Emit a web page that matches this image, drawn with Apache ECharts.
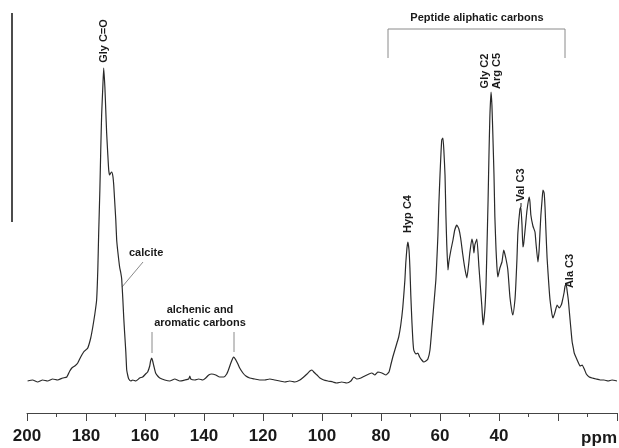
<!DOCTYPE html>
<html>
<head>
<meta charset="utf-8">
<script src="https://cdn.jsdelivr.net/npm/echarts@6/dist/echarts.min.js"></script>
<style>
  html, body { margin: 0; padding: 0; background: #fff; }
  #chart { width: 619px; height: 448px; }
</style>
</head>
<body>
<div id="chart"></div>
<script>
// 13C CP-MAS spectrum, chemical shift (ppm) vs. relative intensity

// Carbonyl region (200-155 ppm)
const carbonylShift = [199.8,198.1,196.4,194.7,193.0,191.3,189.6,187.9,186.5,185.5,184.8,183.8,182.8,181.8,180.8,180.1,179.4,178.4,177.7,177.0,176.4,176.0,175.7,175.3,175.0,174.7,174.3,174.0,173.6,173.3,173.0,172.6,172.3,172.0,171.6,171.3,170.9,170.6,170.3,169.9,169.6,169.2,168.6,168.2,167.9,167.5,167.2,166.9,166.5,166.2,165.8,165.5,164.8,164.2,163.1,161.8,160.8,159.8,159.1,158.4,158.1,157.7,157.4,157.0,156.4,155.7,155.0];
const carbonylIntensity = [8.0,8.25,7.75,8.25,8.0,8.5,8.25,8.75,9.0,10.5,11.25,11.75,12.5,14.0,15.25,15.75,16.25,18.75,21.5,24.75,28.25,35.75,45.0,55.75,65.75,74.5,81.5,86.25,81.5,75.75,70.0,64.5,60.75,59.5,60.0,60.25,59.25,57.0,53.25,48.25,43.25,40.25,36.5,35.0,33.5,28.25,23.75,20.0,15.25,10.75,9.25,8.5,8.0,8.25,8.0,8.75,9.0,9.75,10.25,11.75,13.0,13.75,13.0,11.75,10.0,9.25,8.75];

// Alkene / aromatic region (155-77 ppm)
const aromaticShift = [153.3,151.6,149.9,148.2,146.5,145.2,144.8,144.5,143.1,141.8,140.4,139.4,138.4,137.4,136.0,134.7,133.3,132.3,131.6,130.9,130.2,129.9,129.2,128.5,127.9,126.8,125.8,124.5,122.8,121.1,119.4,117.7,116.0,114.3,112.6,110.9,109.2,107.5,106.2,105.1,104.1,103.4,102.8,101.7,100.7,99.4,98.0,96.3,95.0,93.3,91.6,90.2,89.2,88.2,86.8,85.5,84.1,83.1,82.1,81.1,79.7,78.3,77.3];
const aromaticIntensity = [8.25,8.0,8.5,8.0,8.25,8.5,9.25,8.5,8.25,8.5,8.25,8.75,9.5,9.75,9.5,9.0,9.0,9.75,11.0,12.5,13.75,14.0,13.25,12.25,11.25,10.0,9.25,8.75,8.5,8.25,8.25,8.5,8.25,8.0,7.75,8.0,7.75,8.25,9.0,9.75,10.5,10.75,10.25,9.5,8.75,8.25,8.0,7.75,7.5,7.75,7.5,8.0,9.0,8.5,8.75,9.25,9.75,10.0,9.5,10.25,10.0,9.5,10.25];

// Peptide aliphatic region (77-0 ppm)
const aliphaticShift = [76.6,76.0,75.3,74.6,74.0,73.3,72.6,71.9,71.6,71.2,70.9,70.5,70.2,69.9,69.5,69.2,68.9,68.2,67.5,66.9,66.2,65.5,64.8,64.1,63.4,62.8,62.1,61.4,61.1,60.7,60.4,60.0,59.7,59.4,59.0,58.7,58.3,58.0,57.7,57.3,57.0,56.3,55.6,55.0,54.3,53.6,53.0,52.3,51.6,50.9,50.2,49.9,49.2,48.8,48.5,48.2,47.5,46.8,46.1,45.8,45.4,44.8,44.4,44.1,43.7,43.4,43.1,42.7,42.4,42.1,41.7,41.4,41.0,40.7,40.4,39.7,39.0,38.4,37.7,37.0,36.3,35.6,35.3,34.6,34.3,33.9,33.6,32.9,32.6,32.2,31.9,31.6,30.9,30.5,29.8,29.5,29.2,28.5,27.8,27.5,26.8,26.4,26.1,25.8,25.4,25.1,24.7,24.4,24.1,23.7,23.1,22.7,22.0,21.7,21.0,20.3,19.6,18.9,18.6,17.9,17.6,17.2,16.9,16.5,16.2,15.9,15.5,15.2,14.8,14.5,13.8,13.2,12.5,11.8,11.1,10.4,9.4,8.4,7.1,5.7,4.4,3.0,1.7,0.0];
const aliphaticIntensity = [12.25,14.0,15.75,17.5,19.0,22.0,26.5,33.25,37.5,41.25,42.75,40.75,36.25,29.5,22.5,18.25,15.75,14.75,15.0,14.0,13.25,12.75,13.0,13.5,15.75,20.75,27.0,33.25,37.75,44.5,52.0,59.5,64.5,68.25,68.75,65.75,59.5,49.5,42.0,35.75,37.75,40.75,43.25,45.75,47.0,46.0,43.75,39.75,36.25,33.75,37.75,40.0,43.5,42.25,40.0,42.0,43.5,36.5,29.5,26.5,22.0,25.75,32.0,40.75,53.25,64.5,74.0,80.25,77.0,70.0,59.5,49.0,40.75,36.5,34.0,36.25,37.75,40.75,38.75,35.75,29.0,25.25,24.5,28.25,32.0,38.75,45.0,51.0,51.5,47.0,41.5,42.5,47.75,50.75,54.0,52.75,49.5,46.75,45.25,42.75,37.75,40.75,45.25,49.5,53.25,55.75,55.0,51.5,45.75,38.75,32.0,28.25,24.5,23.75,25.25,27.0,26.25,27.0,27.75,30.25,31.75,32.0,30.5,28.25,25.75,23.25,20.0,17.75,16.25,15.0,13.75,12.75,11.75,12.0,11.0,9.75,9.0,8.75,8.5,8.25,8.25,8.0,8.25,8.0];

// Axis ticks (ppm) that carry a number; the 0 end carries the unit instead
const labelledTicks = [200, 180, 160, 140, 120, 100, 80, 60, 40];
const unitLabel = 'ppm';

const shift = carbonylShift.concat(aromaticShift, aliphaticShift);
const intensity = carbonylIntensity.concat(aromaticIntensity, aliphaticIntensity);
const spectrum = shift.map((s, i) => [s, intensity[i]]);

const FONT = '"Liberation Sans", Arial, Helvetica, sans-serif';
const INK = '#1a1a1a';
const GREY = '#8a8a8a';

function vText(text, x, y) {
  return {
    type: 'text', x: x, y: y, rotation: Math.PI / 2,
    style: { text: text, font: 'bold 11px ' + FONT, fill: INK,
             textAlign: 'center', textVerticalAlign: 'middle', lineHeight: 12 }
  };
}
function hText(text, x, y, align) {
  return {
    type: 'text', x: x, y: y,
    style: { text: text, font: 'bold 11px ' + FONT, fill: INK,
             textAlign: align || 'center', textVerticalAlign: 'middle', lineHeight: 13 }
  };
}
function seg(x1, y1, x2, y2, color, w) {
  return { type: 'line', shape: { x1: x1, y1: y1, x2: x2, y2: y2 },
           style: { stroke: color || GREY, lineWidth: w || 1 } };
}

const chart = echarts.init(document.getElementById('chart'), null, { renderer: 'canvas' });
chart.setOption({
  animation: false,
  backgroundColor: '#ffffff',
  grid: { left: 27, right: 2, top: 13, bottom: 35, containLabel: false, outerBoundsMode: 'none' },
  xAxis: {
    type: 'value', inverse: true, min: 0, max: 200, interval: 20,
    axisLine: { show: true, onZero: false, lineStyle: { color: '#444', width: 1 } },
    axisTick: { show: true, length: 8, lineStyle: { color: '#444' } },
    minorTick: { show: true, splitNumber: 2, length: 4, lineStyle: { color: '#444' } },
    splitLine: { show: false },
    axisLabel: {
      fontSize: 17, fontWeight: 'bold', color: INK, fontFamily: FONT, margin: 15,
      showMinLabel: true, showMaxLabel: true,
      formatter: v => labelledTicks.indexOf(v) >= 0 ? String(v) : ''
    }
  },
  yAxis: { type: 'value', min: 0, max: 100, show: false },
  series: [{
    type: 'line', data: spectrum, showSymbol: false, symbol: 'none',
    smooth: 0.15, lineStyle: { color: '#2a2a2a', width: 1.2 }
  }],
  graphic: [
    // intensity scale bar
    seg(12, 13, 12, 222, '#111', 1.5),
    // unit label at the 0 ppm end of the axis
    { type: 'text', x: 617, y: 438,
      style: { text: unitLabel, font: 'bold 17px ' + FONT, fill: INK,
               textAlign: 'right', textVerticalAlign: 'middle' } },
    vText('Gly C=O', 104, 41),
    hText('calcite', 129, 253, 'left'),
    seg(143, 262, 122, 287),
    hText('alchenic and\naromatic carbons', 200, 316),
    seg(152, 332, 152, 353),
    seg(234, 332, 234, 352),
    vText('Hyp C4', 407.5, 214),
    hText('Peptide aliphatic carbons', 477, 18),
    { type: 'polyline', shape: { points: [[388, 58], [388, 29], [565, 29], [565, 58]] },
      style: { stroke: GREY, lineWidth: 1, fill: null } },
    vText('Gly C2\nArg C5', 491, 71),
    vText('Val C3', 521, 185),
    seg(521, 203, 521, 207, INK, 1),
    vText('Ala C3', 570, 271)
  ]
});
</script>
</body>
</html>
